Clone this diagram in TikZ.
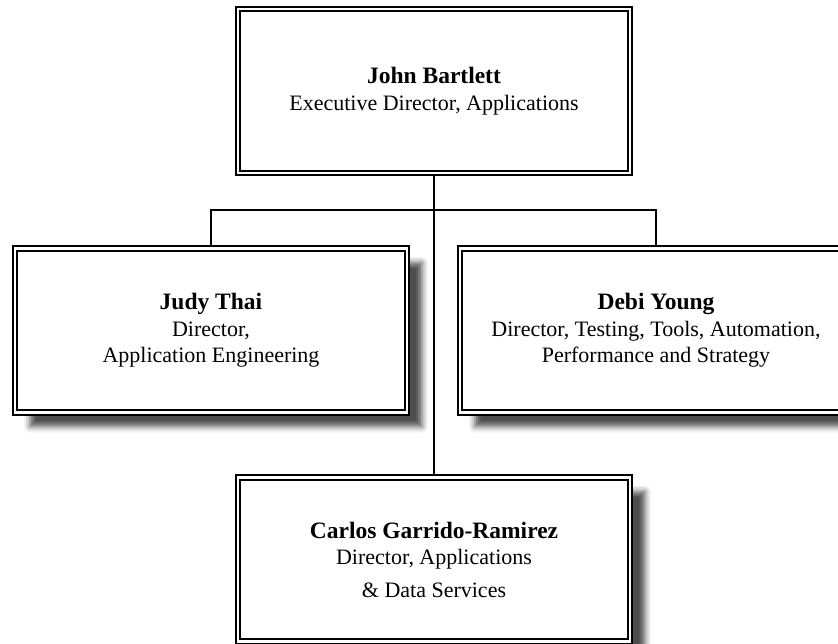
\documentclass[tikz,border=0pt]{standalone}
\usepackage{fontspec}
\setmainfont{Liberation Serif}
\usetikzlibrary{shadows.blur,backgrounds}
\newcommand{\headname}[1]{{\fontsize{23.5}{26}\selectfont\bfseries #1}}
\begin{document}
\begin{tikzpicture}[x=1pt,y=-1pt,
  unitbox/.style={draw,double,line width=1.8pt,double distance=2.5pt,fill=white,
    minimum width=392pt,minimum height=164pt,inner sep=0pt,align=center,
    font=\fontsize{22}{26.5}\selectfont},
  shadowed/.style={blur shadow={shadow xshift=15pt,shadow yshift=-14pt,
    shadow blur radius=6pt,shadow opacity=70}},
  link/.style={line width=1.4pt}]
\useasboundingbox (0,0) rectangle (838,644);
\clip (0,0) rectangle (838,644);
\node[unitbox] (exec) at (434,91) {\headname{John Bartlett}\\Executive Director, Applications};
\node[unitbox,shadowed] (appeng) at (211,330.5) {\headname{Judy Thai}\\Director,\\Application Engineering};
\node[unitbox,shadowed] (testing) at (656,330.5) {\headname{Debi Young}\\Director, Testing, Tools, Automation,\\Performance and Strategy};
\node[unitbox,shadowed] (datasvc) at (434,559.5) {\headname{Carlos Garrido-Ramirez}\\Director, Applications\\[6pt]\& Data Services};
\coordinate (split) at (434,210);
\begin{scope}[on background layer]
\draw[link] (exec.south) -- (split) -- (datasvc.north);
\draw[link] (appeng.north) |- (split) -| (testing.north);
\end{scope}
\end{tikzpicture}
\end{document}
